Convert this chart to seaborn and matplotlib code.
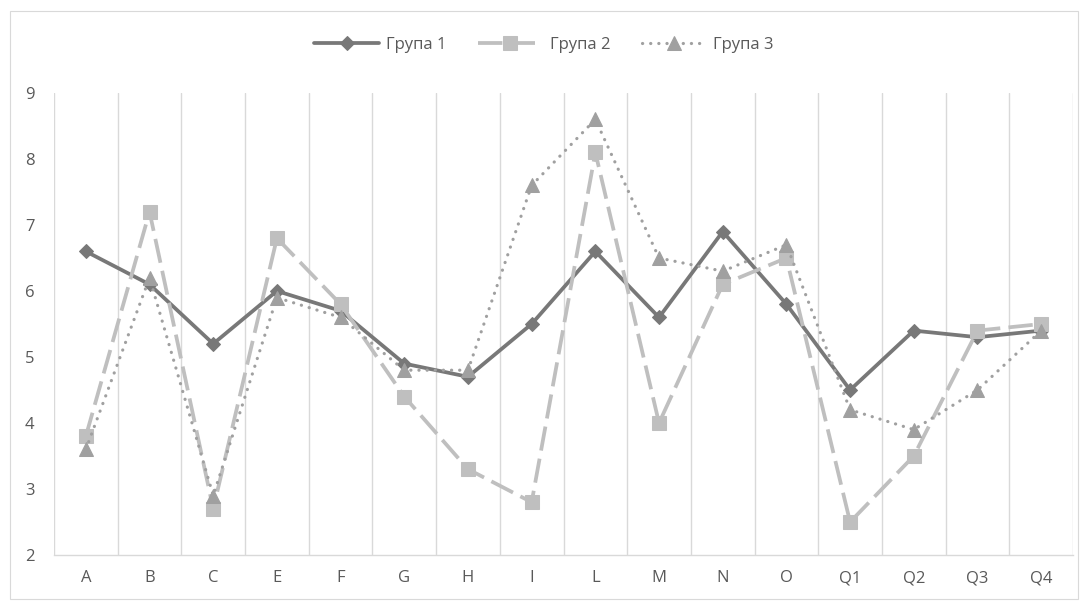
import numpy as np
import pandas as pd
import matplotlib
matplotlib.use("Agg")
import matplotlib.pyplot as plt
import seaborn as sns
from matplotlib.patches import Rectangle

# Data
categories = ['A', 'B', 'C', 'E', 'F', 'G', 'H', 'I', 'L', 'M', 'N', 'O', 'Q1', 'Q2', 'Q3', 'Q4']
group1 = [6.6, 6.1, 5.2, 6.0, 5.7, 4.9, 4.7, 5.5, 6.6, 5.6, 6.9, 5.8, 4.5, 5.4, 5.3, 5.4]
group2 = [3.8, 7.2, 2.7, 6.8, 5.8, 4.4, 3.3, 2.8, 8.1, 4.0, 6.1, 6.5, 2.5, 3.5, 5.4, 5.5]
group3 = [3.6, 6.2, 2.9, 5.9, 5.6, 4.8, 4.8, 7.6, 8.6, 6.5, 6.3, 6.7, 4.2, 3.9, 4.5, 5.4]
series_names = ['Група 1', 'Група 2', 'Група 3']

sns.set_style("white")
plt.rcParams['font.family'] = ['Open Sans', 'DejaVu Sans']

pos = np.arange(len(categories))
df = pd.DataFrame({'pos': pos, series_names[0]: group1,
                   series_names[1]: group2, series_names[2]: group3})

fig = plt.figure(figsize=(10.88, 6.01), dpi=100)
ax = fig.add_axes([54 / 1088, 1 - 555 / 601, (1073 - 54) / 1088, (555 - 93) / 601])

# chart border
fig.patches.append(Rectangle((10 / 1088, 2 / 601), 1068 / 1088, 588 / 601,
                             transform=fig.transFigure, fill=False,
                             edgecolor='#d9d9d9', linewidth=0.8))

styles = [
    dict(color='#787878', marker='D', markersize=7.5, lw=2.7, dashes=None),
    dict(color='#bfbfbf', marker='s', markersize=9.5, lw=2.7, dashes=(6.5, 2.2)),
    dict(color='#a0a0a0', marker='^', markersize=10, lw=2.3, dashes=(0.05, 2.5)),
]

for name, st in zip(series_names, styles):
    sns.lineplot(data=df, x='pos', y=name, ax=ax, color=st['color'],
                 marker=st['marker'], markersize=st['markersize'],
                 markeredgecolor=st['color'], linewidth=st['lw'], label=name)
    line = ax.lines[-1]
    if st['dashes'] is not None:
        line.set_dashes(st['dashes'])
        line.set_dash_capstyle('round' if st['dashes'][0] < 1 else 'butt')

ax.set_xlim(-0.5, len(categories) - 0.5)
ax.set_ylim(2, 9)
ax.set_yticks(range(2, 10))
ax.set_xticks(pos)
ax.set_xticklabels(categories)
ax.set_xticks(np.arange(-0.5, len(categories), 1), minor=True)
ax.grid(False)
ax.grid(True, which='minor', axis='x', color='#d9d9d9', linewidth=1)
ax.tick_params(axis='both', which='both', length=0, labelsize=12,
               labelcolor='#595959')
ax.tick_params(axis='y', pad=14)
ax.tick_params(axis='x', pad=11)
ax.set_xlabel('')
ax.set_ylabel('')
for s in ['top', 'right', 'left']:
    ax.spines[s].set_visible(False)
ax.spines['bottom'].set_color('#d9d9d9')
ax.spines['bottom'].set_linewidth(1)

ax.legend(loc='center', bbox_to_anchor=(0.5, 1 - 45 / 601), bbox_transform=fig.transFigure,
          ncol=3, frameon=False, fontsize=12, handlelength=3.9, columnspacing=1.9,
          labelcolor='#595959', handletextpad=0.4)

fig.savefig('out.png', dpi=100)
